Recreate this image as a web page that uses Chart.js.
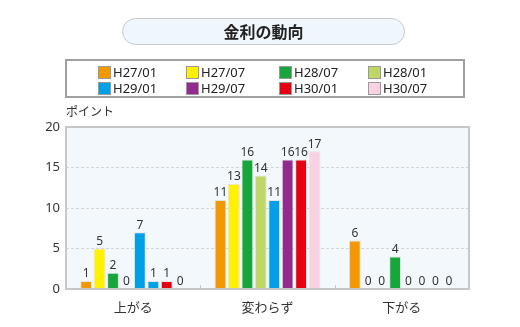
<!DOCTYPE html>
<html>
<head>
<meta charset="utf-8">
<script src="https://cdn.jsdelivr.net/npm/chart.js@4"></script>
<style>
	body { margin: 0; background: #fff; font-family: "Noto Sans CJK JP", "Noto Sans", sans-serif; }
	#wrap { position: relative; width: 520px; height: 327px; overflow: hidden; }
	#chart { position: absolute; left: 0; top: 0; }
	#title {
		position: absolute; left: 122px; top: 18px; width: 281px; height: 25px;
		border: 1px solid #c8c8c8; border-radius: 14px; background: #f0f7fc;
		text-align: center; line-height: 25px; font-size: 16px; font-weight: bold; color: #222;
	}
	#legend {
		position: absolute; left: 65px; top: 59px; width: 396px; height: 35px;
		border: 2px solid #a0a0a0; background: #fff;
	}
	.item { position: absolute; font-size: 13px; color: #222; font-family: "Noto Sans", sans-serif; line-height: 14px; }
	.item span.box { position: absolute; left: 0; top: 1px; width: 11px; height: 11px; border: 1px solid #999; }
	.item span.txt { position: absolute; left: 15px; top: 0; white-space: nowrap; }
	#unit { position: absolute; left: 66px; top: 102px; font-size: 12px; color: #333; }
</style>
</head>
<body>
<div id="wrap">
	<canvas id="chart" width="520" height="327"></canvas>
	<div id="title">金利の動向</div>
	<div id="legend"></div>
	<div id="unit">ポイント</div>
</div>
<script>
const categories = ["上がる", "変わらず", "下がる"];
const seriesNames = ["H27/01", "H27/07", "H28/07", "H28/01", "H29/01", "H29/07", "H30/01", "H30/07"];
const h27_01 = [1, 11, 6];
const h27_07 = [5, 13, 0];
const h28_07 = [2, 16, 0];
const h28_01 = [0, 14, 4];
const h29_01 = [7, 11, 0];
const h29_07 = [1, 16, 0];
const h30_01 = [1, 16, 0];
const h30_07 = [0, 17, 0];
const yTicks = [0, 5, 10, 15, 20];

const colors = ["#f39800", "#fff100", "#18a63c", "#bfd766", "#00a0e9", "#922b8d", "#e60012", "#f8d2e3"];
// the original picture paints two bars in another series' colour
const barColors = [
	colors[0], colors[1], colors[2],
	[colors[3], colors[3], colors[2]],
	colors[4],
	[colors[4], colors[5], colors[5]],
	colors[6], colors[7]
];
const values = [h27_01, h27_07, h28_07, h28_01, h29_01, h29_07, h30_01, h30_07];

const legend = document.getElementById("legend");
const colX = [31, 119, 212, 301];
seriesNames.forEach((name, i) => {
	let item = document.createElement("div");
	item.className = "item";
	item.style.left = colX[i % 4] + "px";
	item.style.top = (i < 4 ? 4 : 20) + "px";
	let box = document.createElement("span");
	box.className = "box";
	box.style.background = colors[i];
	let txt = document.createElement("span");
	txt.className = "txt";
	txt.textContent = name;
	item.append(box, txt);
	legend.append(item);
});

const plotFrame = {
	id: "plotFrame",
	beforeDraw(chart) {
		const a = chart.chartArea;
		const ctx = chart.ctx;
		ctx.save();
		ctx.fillStyle = "#f2f8fc";
		ctx.fillRect(a.left, a.top, a.right - a.left, a.bottom - a.top);
		ctx.restore();
	},
	afterDatasetsDraw(chart) {
		const a = chart.chartArea;
		const ctx = chart.ctx;
		const x = chart.scales.x;
		ctx.save();
		ctx.strokeStyle = "#c8c8c8";
		ctx.lineWidth = 2;
		ctx.strokeRect(a.left, a.top, a.right - a.left, a.bottom - a.top);
		ctx.lineWidth = 1;
		for (let i = 0; i < categories.length - 1; i++) {
			const px = Math.round((x.getPixelForValue(i) + x.getPixelForValue(i + 1)) / 2) + 0.5;
			ctx.beginPath();
			ctx.moveTo(px, a.bottom);
			ctx.lineTo(px, a.bottom - 4);
			ctx.stroke();
		}
		// value labels
		ctx.fillStyle = "#333";
		ctx.font = "12px 'Noto Sans', sans-serif";
		ctx.textAlign = "center";
		ctx.textBaseline = "bottom";
		chart.data.datasets.forEach((ds, i) => {
			chart.getDatasetMeta(i).data.forEach((bar, j) => {
				ctx.fillText(String(ds.data[j]), bar.x, bar.y - 1);
			});
		});
		ctx.restore();
	}
};

new Chart(document.getElementById("chart"), {
	type: "bar",
	data: {
		labels: categories,
		datasets: seriesNames.map((name, i) => ({
			label: name,
			data: values[i],
			backgroundColor: barColors[i],
			borderColor: "rgba(225,225,225,0.9)",
			borderWidth: 1,
			categoryPercentage: 0.8,
			barPercentage: 0.88
		}))
	},
	options: {
		responsive: false,
		animation: false,
		layout: { padding: { left: 0, top: 127, right: 51, bottom: 0 } },
		plugins: { legend: { display: false }, tooltip: { enabled: false } },
		scales: {
			x: {
				grid: { display: false },
				border: { display: false },
				ticks: { color: "#333", font: { size: 13, family: "'Noto Sans CJK JP', sans-serif" }, padding: 2 },
				afterFit(scale) { scale.height = 38; }
			},
			y: {
				min: 0,
				max: 20,
				afterBuildTicks(scale) { scale.ticks = yTicks.map((v) => ({ value: v })); },
				grid: { color: "#d4d4d4", drawTicks: false },
				border: { display: false, dash: [3, 2] },
				ticks: { color: "#333", font: { size: 13, family: "'Noto Sans', sans-serif" }, padding: 6 },
				afterFit(scale) { scale.width = 66; }
			}
		}
	},
	plugins: [plotFrame]
});
</script>
</body>
</html>
